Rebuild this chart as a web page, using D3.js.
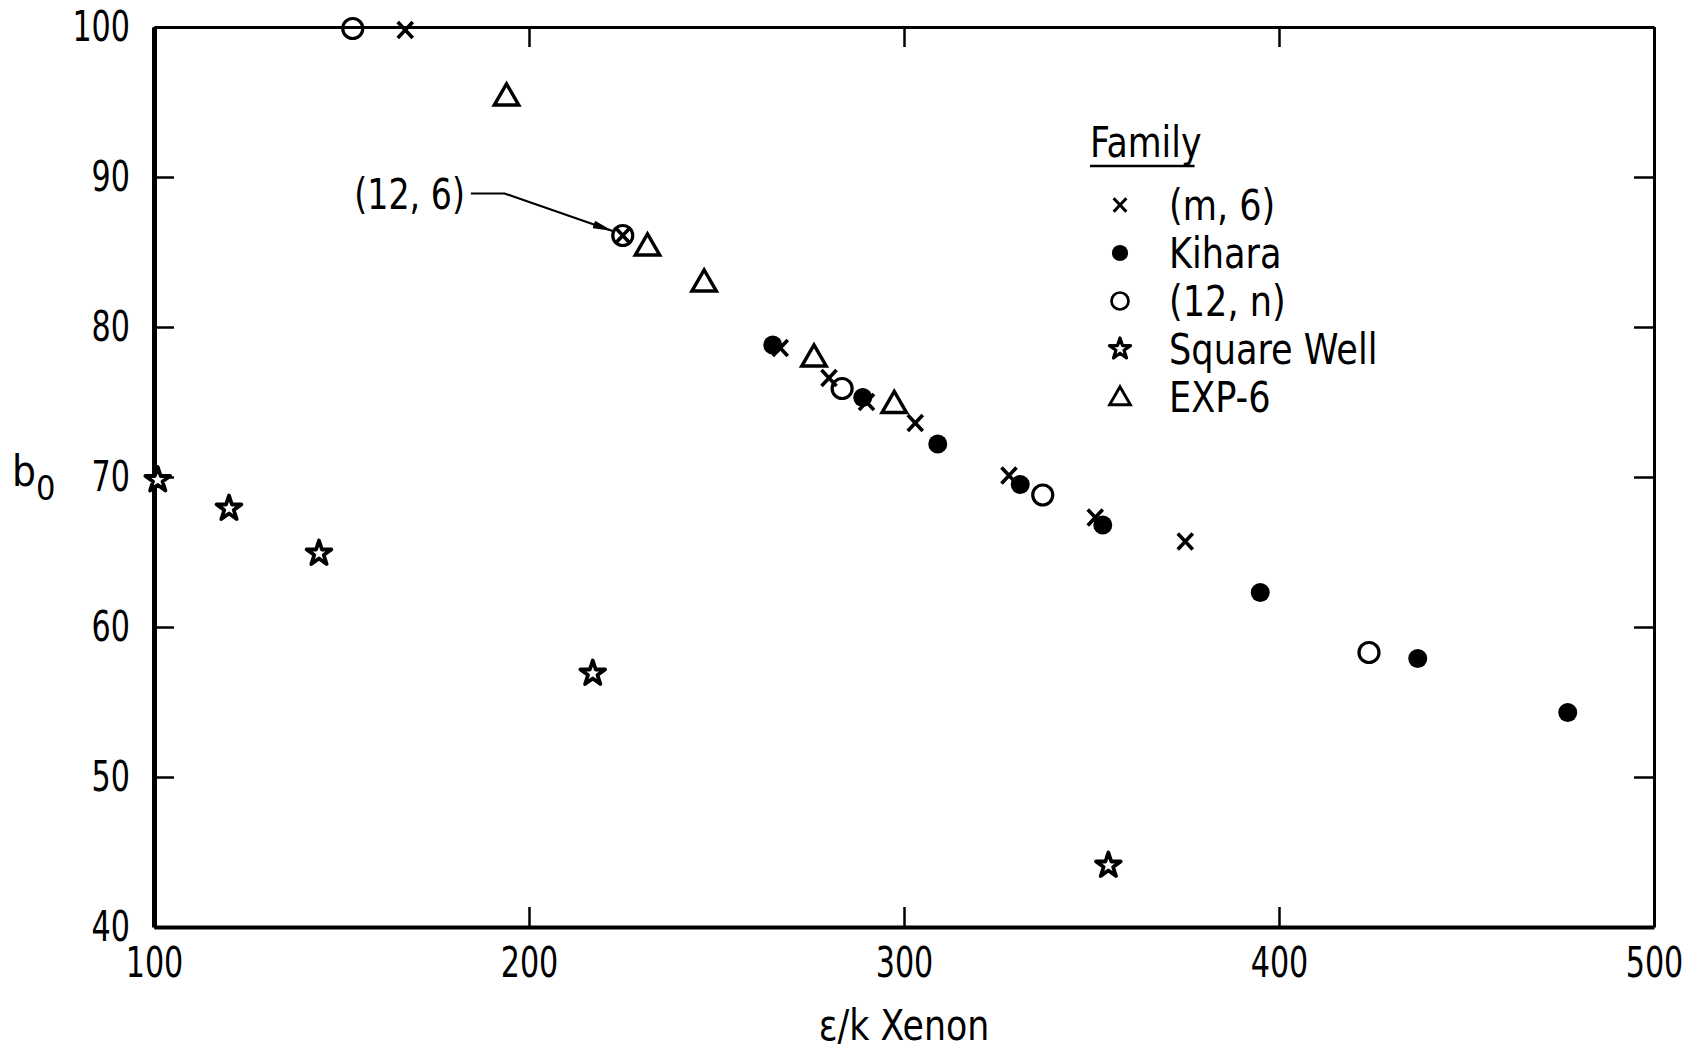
<!DOCTYPE html>
<html>
<head>
<meta charset="utf-8">
<script src="https://cdn.jsdelivr.net/npm/d3@7"></script>
<style>
  body { margin: 0; background: #fff; }
  text { font-family: "Liberation Sans Narrow", "DejaVu Sans Condensed", "Arial Narrow", sans-serif; fill: #000; }
</style>
</head>
<body>
<script>
// axis ticks
const xTicks = [100, 200, 300, 400, 500];
const yTicks = [40, 50, 60, 70, 80, 90, 100];

// legend
const families = ["(m, 6)", "Kihara", "(12, n)", "Square Well", "EXP-6"];

// (m, 6) - crosses
const m6X = [167, 225, 267, 280, 290, 303, 328, 351, 375];
const m6Y = [99.8, 86.1, 78.6, 76.6, 75.0, 73.6, 70.1, 67.3, 65.7];

// Kihara - filled dots
const kiharaX = [265, 289, 309, 331, 353, 395, 437, 477];
const kiharaY = [78.8, 75.3, 72.2, 69.5, 66.8, 62.3, 57.9, 54.3];

// (12, n) - open circles
const n12X = [153, 225, 283.5, 337, 424];
const n12Y = [99.9, 86.1, 75.9, 68.8, 58.3];

// Square well - stars
const swX = [101, 120, 144, 217, 354.5];
const swY = [69.8, 67.9, 64.9, 56.9, 44.1];

// EXP-6 - triangles
const expX = [194, 231.6, 246.7, 276, 297.4];
const expY = [95.4, 85.4, 83.0, 78.0, 74.9];

// annotation pointing at the (12, 6) point
const noteText = "(12, 6)";
const notePath = [[184.5, 88.9], [193.5, 88.9], [222.3, 86.4]];

const width = 1703;
const height = 1049;

const x = d3.scaleLinear().domain([100, 500]).range([154, 1654]);
const y = d3.scaleLinear().domain([40, 100]).range([927, 27]);

const zip = (xs, ys) => xs.map((v, i) => ({ x: v, y: ys[i] }));

// squeeze text to look like the condensed typewriter lettering
function condense(sel, k) {
  sel.each(function () {
    const w = this.getComputedTextLength();
    d3.select(this).attr("textLength", w * k).attr("lengthAdjust", "spacingAndGlyphs");
  });
}

function marker(g, kind, cx, cy, s) {
  s = s || 1;
  const t = g.append("g").attr("transform", `translate(${cx},${cy}) scale(${s})`);
  if (kind === 0) {
    t.append("path").attr("d", "M-7.5,-8L7.5,8M-7.5,8L7.5,-8")
      .attr("stroke", "#000").attr("stroke-width", 3.6).attr("fill", "none");
  } else if (kind === 1) {
    t.append("circle").attr("r", 9.5).attr("fill", "#000");
  } else if (kind === 2) {
    t.append("circle").attr("r", 10).attr("fill", "none")
      .attr("stroke", "#000").attr("stroke-width", 3.2);
  } else if (kind === 3) {
    t.append("path").attr("d", d3.symbol(d3.symbolStar, 190)())
      .attr("fill", "#fff").attr("stroke", "#000").attr("stroke-width", 3.8)
      .attr("stroke-linejoin", "round");
  } else {
    t.append("path").attr("d", d3.symbol(d3.symbolTriangle, 260)())
      .attr("transform", "translate(0,2)")
      .attr("fill", "none").attr("stroke", "#000").attr("stroke-width", 3.4);
  }
}

document.addEventListener("DOMContentLoaded", function () {
  const svg = d3.select("body").append("svg")
    .attr("width", width)
    .attr("height", height);

  // frame and ticks (ticks point inward)
  const bottom = svg.append("g").attr("transform", `translate(0,${y(40)})`)
    .call(d3.axisBottom(x).tickValues(xTicks).tickSize(-20).tickSizeOuter(0).tickPadding(19));
  const left = svg.append("g").attr("transform", `translate(${x(100)},0)`)
    .call(d3.axisLeft(y).tickValues(yTicks).tickSize(-20).tickSizeOuter(0).tickPadding(24));
  const top = svg.append("g").attr("transform", `translate(0,${y(100)})`)
    .call(d3.axisTop(x).tickValues(xTicks).tickSize(-20).tickSizeOuter(0).tickFormat(""));
  const right = svg.append("g").attr("transform", `translate(${x(500)},0)`)
    .call(d3.axisRight(y).tickValues(yTicks).tickSize(-20).tickSizeOuter(0).tickFormat(""));

  [bottom, left, top, right].forEach(a => {
    a.select(".domain").attr("stroke", "#000");
    a.selectAll(".tick line").attr("stroke", "#000").attr("stroke-width", 2.5);
  });
  left.select(".domain").attr("stroke-width", 5);
  bottom.select(".domain").attr("stroke-width", 4);
  top.select(".domain").attr("stroke-width", 3);
  right.select(".domain").attr("stroke-width", 3);

  [bottom, left].forEach(a => {
    a.selectAll(".tick text").attr("font-size", 43).attr("fill", "#000")
      .style("font-family", "'Liberation Sans Narrow', 'DejaVu Sans Condensed', sans-serif")
      .call(condense, 0.78);
  });

  // axis titles
  svg.append("text").attr("x", x(300)).attr("y", 1040)
    .attr("text-anchor", "middle").attr("font-size", 42)
    .text("ε/k Xenon").call(condense, 0.92);
  const bt = svg.append("text").attr("x", 12).attr("y", 486).attr("font-size", 42);
  bt.append("tspan").text("b");
  bt.append("tspan").attr("font-size", 34).attr("dy", 14).text("0");

  // data series
  const plot = svg.append("g");
  const series = [zip(m6X, m6Y), zip(kiharaX, kiharaY), zip(n12X, n12Y), zip(swX, swY), zip(expX, expY)];
  series.forEach((pts, k) => {
    pts.forEach(p => marker(plot, k, x(p.x), y(p.y)));
  });

  // annotation
  svg.append("defs").append("marker")
    .attr("id", "arrow").attr("viewBox", "0 0 20 8")
    .attr("refX", 20).attr("refY", 4)
    .attr("markerWidth", 20).attr("markerHeight", 8)
    .attr("markerUnits", "userSpaceOnUse").attr("orient", "auto")
    .append("path").attr("d", "M0,0L20,4L0,8Z").attr("fill", "#000");
  svg.append("path")
    .attr("d", d3.line().x(d => x(d[0])).y(d => y(d[1]))(notePath))
    .attr("fill", "none").attr("stroke", "#000").attr("stroke-width", 2.2)
    .attr("marker-end", "url(#arrow)");
  svg.append("text").attr("x", x(notePath[0][0]) - 6).attr("y", y(notePath[0][1]) + 15)
    .attr("text-anchor", "end").attr("font-size", 42)
    .text(noteText).call(condense, 0.88);

  // legend
  const lg = svg.append("g").attr("transform", "translate(1090,0)");
  const title = lg.append("text").attr("x", 0).attr("y", 157).attr("font-size", 42)
    .text("Family").call(condense, 0.92);
  const tw = title.node().getComputedTextLength() * 0.92;
  lg.append("line").attr("x1", 0).attr("x2", tw + 2).attr("y1", 166).attr("y2", 166)
    .attr("stroke", "#000").attr("stroke-width", 2.5);
  families.forEach((f, i) => {
    const yy = 205 + i * 48;
    marker(lg, i, 30, yy, 0.85);
    lg.append("text").attr("x", 79).attr("y", yy + 15).attr("font-size", 42)
      .text(f).call(condense, 0.93);
  });
});
</script>
</body>
</html>
